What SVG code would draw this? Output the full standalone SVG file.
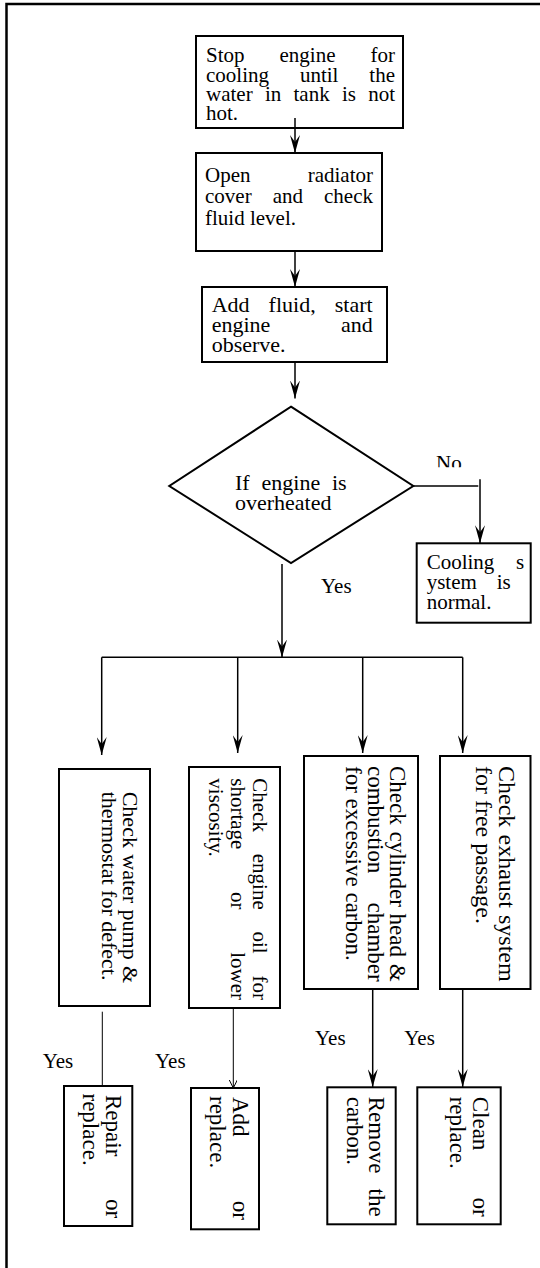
<svg xmlns="http://www.w3.org/2000/svg" width="540" height="1268" viewBox="0 0 540 1268">
<style>
.box{fill:#fff;stroke:#000;stroke-width:2}
.t{font-family:"Liberation Serif","Times New Roman",serif;font-size:21px;fill:#000}
.t22{font-size:22px}
.t23{font-size:23px}
.t24{font-size:24px}
.c{stroke:#000;stroke-width:1.5;fill:none}
.thin{stroke:#000;stroke-width:1;fill:none}
.frame{stroke:#000;stroke-width:2.5;fill:none}
</style>
<defs>
<marker id="ah" markerUnits="userSpaceOnUse" viewBox="0 0 18 10" refX="18" refY="5" markerWidth="18" markerHeight="10" orient="auto"><path d="M0,0 L18,5 L0,10 L7,5 Z" fill="#000"/></marker>
<marker id="ahs" markerUnits="userSpaceOnUse" viewBox="0 0 8 8" refX="8" refY="4" markerWidth="8" markerHeight="8" orient="auto"><path d="M0,0 L8,4 L0,8" fill="none" stroke="#000" stroke-width="1"/></marker>
<clipPath id="noclip"><rect x="420" y="430" width="80" height="37.3"/></clipPath>
</defs>
<path class="frame" d="M6.5,1268 V4 H540"/>
<g id="n1">
<rect class="box" x="196" y="36" width="207" height="92"/>
<text class="t"><tspan x="206" y="62">Stop</tspan><tspan x="279.5" y="62">engine</tspan><tspan x="370.5" y="62">for</tspan><tspan x="206" y="81.5">cooling</tspan><tspan x="299.9" y="81.5">until</tspan><tspan x="369.3" y="81.5">the</tspan><tspan x="206" y="100.5">water</tspan><tspan x="264.9" y="100.5">in</tspan><tspan x="293.5" y="100.5">tank</tspan><tspan x="342" y="100.5">is</tspan><tspan x="368.3" y="100.5">not</tspan><tspan x="206" y="120">hot.</tspan></text>
</g>
<g id="n2">
<rect class="box" x="196" y="153" width="186" height="98"/>
<text class="t"><tspan x="205" y="181.5">Open</tspan><tspan x="307.7" y="181.5">radiator</tspan><tspan x="205" y="203">cover</tspan><tspan x="272.7" y="203">and</tspan><tspan x="324" y="203">check</tspan><tspan x="205" y="224.5">fluid level.</tspan></text>
</g>
<g id="n3">
<rect class="box" x="202" y="287" width="185" height="75"/>
<text class="t t22"><tspan x="211.7" y="311.7">Add</tspan><tspan x="268.6" y="311.7">fluid,</tspan><tspan x="334.8" y="311.7">start</tspan><tspan x="211.7" y="331.7">engine</tspan><tspan x="340.9" y="331.7">and</tspan><tspan x="211.7" y="351.7">observe.</tspan></text>
</g>
<g id="decision">
<polygon class="box" points="291,406.7 413.3,486 291,563 169.3,486"/>
<text class="t t22"><tspan x="235" y="490">If</tspan><tspan x="261.5" y="490">engine</tspan><tspan x="332" y="490">is</tspan><tspan x="235" y="510">overheated</tspan></text>
</g>
<g id="normal">
<rect class="box" x="416.7" y="543.3" width="114" height="79.4"/>
<text class="t"><tspan x="426.7" y="569">Cooling</tspan><tspan x="516" y="569">s</tspan><tspan x="426.7" y="589">ystem</tspan><tspan x="496.7" y="589">is</tspan><tspan x="426.7" y="609">normal.</tspan></text>
</g>
<g id="pump">
<rect class="box" x="59" y="769" width="91" height="237"/>
<text class="t t22" transform="rotate(90)"><tspan x="791.7" y="-122.7">Check</tspan><tspan x="854.3" y="-122.7">water</tspan><tspan x="909.6" y="-122.7">pump</tspan><tspan x="966.1" y="-122.7">&amp;</tspan><tspan x="791.7" y="-102.3">thermostat for defect.</tspan></text>
</g>
<g id="oil">
<rect class="box" x="189" y="767" width="91" height="241"/>
<text class="t" transform="rotate(90)"><tspan x="778.3" y="-253">Check</tspan><tspan x="853.8" y="-253">engine</tspan><tspan x="931.5" y="-253">oil</tspan><tspan x="975.5" y="-253">for</tspan><tspan x="778.3" y="-231">shortage</tspan><tspan x="892" y="-231">or</tspan><tspan x="952.2" y="-231">lower</tspan><tspan x="778.3" y="-209">viscosity.</tspan></text>
</g>
<g id="cylinder">
<rect class="box" x="304" y="756" width="114" height="233"/>
<text class="t t23" transform="rotate(90)"><tspan x="766" y="-390">Check</tspan><tspan x="831.5" y="-390">cylinder</tspan><tspan x="913.6" y="-390">head</tspan><tspan x="963.7" y="-390">&amp;</tspan><tspan x="766" y="-368">combustion</tspan><tspan x="902.5" y="-368">chamber</tspan><tspan x="766" y="-346">for excessive carbon.</tspan></text>
</g>
<g id="exhaust">
<rect class="box" x="440" y="756" width="90.5" height="233"/>
<text class="t t24" transform="rotate(90)"><tspan x="766" y="-499.3">Check</tspan><tspan x="834.5" y="-499.3">exhaust</tspan><tspan x="915" y="-499.3">system</tspan><tspan x="766" y="-476">for free passage.</tspan></text>
</g>
<g id="repair">
<rect class="box" x="64" y="1086" width="68.3" height="140"/>
<text class="t t23" transform="rotate(90)"><tspan x="1095" y="-106">Repair</tspan><tspan x="1199.1" y="-106">or</tspan><tspan x="1093.5" y="-83.3">replace.</tspan></text>
</g>
<g id="add">
<rect class="box" x="191" y="1088" width="68" height="141.3"/>
<text class="t t23" transform="rotate(90)"><tspan x="1097" y="-232.7">Add</tspan><tspan x="1200.8" y="-232.7">or</tspan><tspan x="1096" y="-210">replace.</tspan></text>
</g>
<g id="remove">
<rect class="box" x="327.3" y="1087.3" width="68.4" height="137"/>
<text class="t t23" transform="rotate(90)"><tspan x="1096.7" y="-369">Remove</tspan><tspan x="1188.6" y="-369">the</tspan><tspan x="1096.7" y="-346.7">carbon.</tspan></text>
</g>
<g id="clean">
<rect class="box" x="417.3" y="1087.3" width="83.4" height="137"/>
<text class="t t23" transform="rotate(90)"><tspan x="1096.7" y="-473.3">Clean</tspan><tspan x="1197.5" y="-473.3">or</tspan><tspan x="1096.7" y="-450">replace.</tspan></text>
</g>
<g id="connectors">
<path class="c" d="M295,118 V153" marker-end="url(#ah)"/>
<path class="c" d="M295,251 V287" marker-end="url(#ah)"/>
<path class="c" d="M295,362 V398.5" marker-end="url(#ah)"/>
<path class="c" d="M413.3,486 H478.3"/>
<path class="c" d="M480,479.3 V543.3" marker-end="url(#ah)"/>
<path class="c" d="M282,564 V657.5" marker-end="url(#ah)"/>
<path class="c" d="M101.7,657.3 H462.7"/>
<path class="c" d="M101.7,657.3 V755" marker-end="url(#ah)"/>
<path class="c" d="M237.7,657.3 V753" marker-end="url(#ah)"/>
<path class="c" d="M362.7,657.3 V753" marker-end="url(#ah)"/>
<path class="c" d="M462.7,657.3 V753" marker-end="url(#ah)"/>
<path class="thin" d="M102.3,1011.7 V1086"/>
<path class="thin" d="M233.3,1008 V1088" marker-end="url(#ahs)"/>
<path class="c" d="M372.7,989 V1087" marker-end="url(#ah)"/>
<path class="c" d="M462.7,989 V1087" marker-end="url(#ah)"/>
<text class="t" clip-path="url(#noclip)"><tspan x="436" y="470">No</tspan></text>
<text class="t" x="321" y="593">Yes</text>
<text class="t" x="42.7" y="1068.3">Yes</text>
<text class="t" x="155" y="1068.3">Yes</text>
<text class="t" x="315" y="1045">Yes</text>
<text class="t" x="404.3" y="1045">Yes</text>
</g>
</svg>
